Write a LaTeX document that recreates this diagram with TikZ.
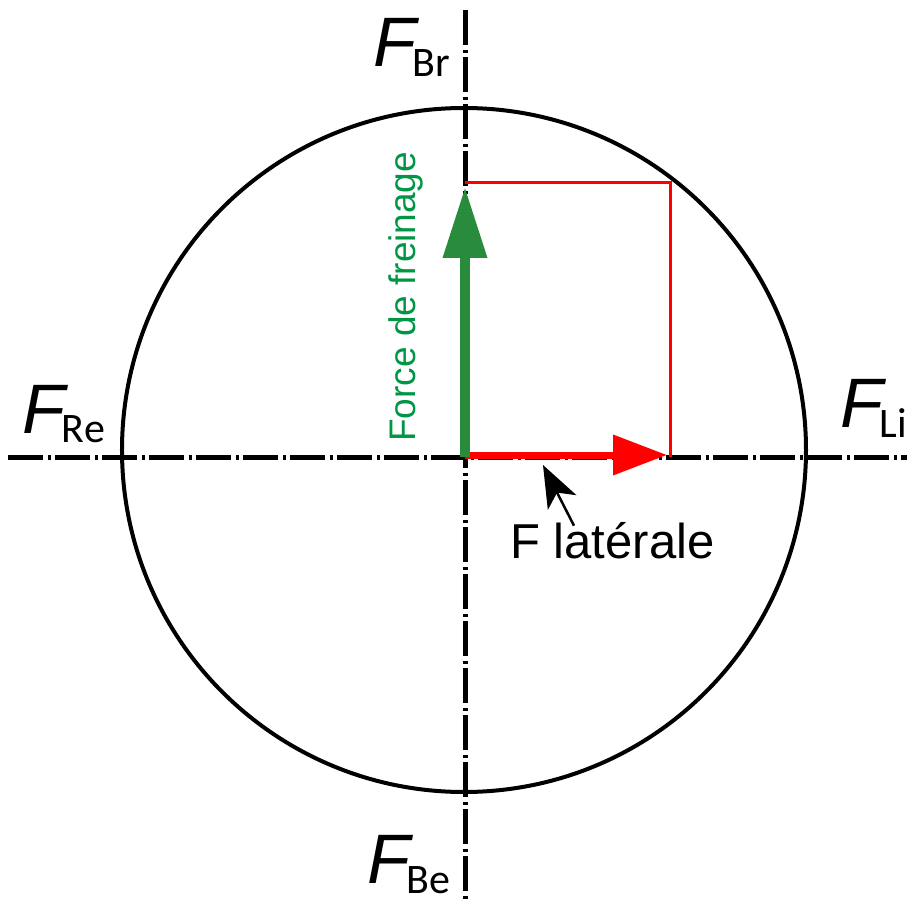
\documentclass[tikz,border=0pt]{standalone}
\usepackage{fontspec}
\setmainfont{Liberation Sans}
\newfontfamily\subfont{Carlito}
\usepackage{tikz}
\usetikzlibrary{arrows.meta, positioning, calc}
\definecolor{BrakeGreen}{RGB}{40,140,60}
\definecolor{LabelGreen}{RGB}{0,150,70}
\definecolor{ForceRed}{RGB}{255,0,0}
\newcommand{\forcelabel}[1]{{\fontsize{70}{70}\selectfont\itshape F}\kern-3pt\raisebox{-10pt}{\fontsize{42}{42}\selectfont\subfont #1}}

\begin{document}
\begin{tikzpicture}[x=1pt, y=1pt,
    axis/.style={line width=5pt, dash pattern=on 35pt off 5pt on 3pt off 4pt},
    flabel/.style={inner sep=0pt, anchor=base west}]
  \useasboundingbox (-465,-445) rectangle (442,457);
  \coordinate (O) at (0,0);
  % axes and wheel contour
  \draw[axis] (-457,0) coordinate (left) -- (442,0) coordinate (right);
  \draw[axis] (0,447) coordinate (top) -- (0,-445) coordinate (bottom);
  \draw[line width=4pt] (-1,7) coordinate (hub) circle (342);
  % direction labels
  \node[flabel] (Br) at (-92,390) {\forcelabel{Br}};
  \node[flabel] (Re) at (-443,24) {\forcelabel{Re}};
  \node[flabel] (Li) at (375,30) {\forcelabel{Li}};
  \node[flabel] (Be) at (-98,-426) {\forcelabel{Be}};
  % force rectangle
  \coordinate (brake) at (0,270);
  \coordinate (side) at (202,2);
  \draw[ForceRed, line width=3pt] (0,274) -- (205,274) coordinate (corner) -- (205,0);
  \draw[ForceRed, line width=7pt, -{Triangle[length=54pt, width=39pt]}] (0,2) -- (side);
  \draw[BrakeGreen, line width=10pt, -{Triangle[length=71pt, width=42pt]}] (O) -- (brake);
  \node[flabel, rotate=90, text=LabelGreen, font=\fontsize{37}{37}\selectfont] (freinage) at (-50,15) {Force de freinage};
  % lateral force label
  \node[flabel, font=\fontsize{49}{49}\selectfont] (lat) at (45,-101) {F latérale};
  \coordinate (ptr) at (78,-8);
  \draw[line width=2.5pt, -{Stealth[length=42pt, width=32pt, inset=11pt]}] ([xshift=64pt, yshift=-4pt]lat.north west) -- (ptr);
\end{tikzpicture}
\end{document}
